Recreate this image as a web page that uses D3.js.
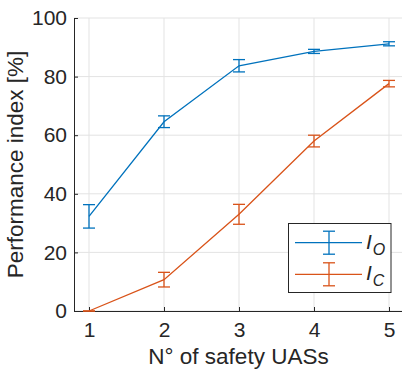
<!DOCTYPE html>
<html>
<head>
<meta charset="utf-8">
<script src="https://cdn.jsdelivr.net/npm/d3@7"></script>
<style>
  body { margin: 0; background: #fff; }
  svg { display: block; font-family: Arial, "Liberation Sans", sans-serif; }
</style>
</head>
<body>
<svg id="chart" width="402" height="369"></svg>
<script>
// data
var safetyUAS = [1, 2, 3, 4, 5];
var ioMean = [32.3, 64.6, 83.7, 88.6, 91.2];
var ioErr = [4.0, 2.0, 2.1, 0.7, 0.7];
var icMean = [0, 10.7, 33.0, 58.0, 77.6];
var icErr = [0, 2.5, 3.4, 2.0, 1.1];
var yTicks = [0, 20, 40, 60, 80, 100];

var W = 402, H = 369;
var margin = {left: 74, top: 18, bottom: 311, right: 404};
var svg = d3.select('#chart');

var x = d3.scaleLinear().domain([0.8, 5.2]).range([margin.left, margin.right]);
var y = d3.scaleLinear().domain([0, 100]).range([margin.bottom, margin.top]);

var gridColor = '#e3e3e3', axisColor = '#262626';
var blue = '#0072BD', orange = '#D95319';

// grid
var grid = svg.append('g');
grid.selectAll('.gx').data(safetyUAS).enter().append('line')
    .attr('x1', function(d) { return x(d); }).attr('x2', function(d) { return x(d); })
    .attr('y1', y(0)).attr('y2', y(100))
    .attr('stroke', gridColor).attr('stroke-width', 1);
grid.selectAll('.gy').data(yTicks).enter().append('line')
    .attr('x1', margin.left).attr('x2', W)
    .attr('y1', function(d) { return y(d); }).attr('y2', function(d) { return y(d); })
    .attr('stroke', gridColor).attr('stroke-width', 1);

// axes (ticks inward, like matlab)
var xAxis = d3.axisBottom(x).tickValues(safetyUAS).tickFormat(d3.format('d'))
    .tickSizeInner(-4).tickSizeOuter(0).tickPadding(11);
var yAxis = d3.axisLeft(y).tickValues(yTicks).tickSizeInner(-4).tickSizeOuter(0).tickPadding(7);

var gx = svg.append('g').attr('transform', 'translate(0,' + margin.bottom + ')').call(xAxis);
var gy = svg.append('g').attr('transform', 'translate(' + margin.left + ',0)').call(yAxis);
[gx, gy].forEach(function(g) {
    g.select('.domain').attr('stroke', axisColor).attr('stroke-width', 1);
    g.selectAll('.tick line').attr('stroke', axisColor);
    g.selectAll('.tick text').attr('fill', axisColor).style('font-size', '21px');
});
gx.selectAll('.tick text').attr('dy', '0.71em');

// axis labels
svg.append('text').attr('x', 238.5).attr('y', 364)
    .attr('text-anchor', 'middle').attr('fill', axisColor).style('font-size', '22.5px')
    .text('N\u00b0 of safety UASs');
svg.append('text').attr('transform', 'translate(23,' + (y(50)) + ') rotate(-90)')
    .attr('text-anchor', 'middle').attr('fill', axisColor).style('font-size', '22.5px')
    .text('Performance index [%]');

// series with error bars
var cap = 6;
function drawSeries(means, errs, color) {
    var g = svg.append('g');
    var pts = safetyUAS.map(function(d, i) { return {x: d, m: means[i], e: errs[i]}; });
    g.append('path').datum(pts)
        .attr('d', d3.line().x(function(d) { return x(d.x); }).y(function(d) { return y(d.m); }))
        .attr('fill', 'none').attr('stroke', color).attr('stroke-width', 1.3);
    var eb = g.selectAll('.eb').data(pts).enter().append('g');
    eb.append('line')
        .attr('x1', function(d) { return x(d.x); }).attr('x2', function(d) { return x(d.x); })
        .attr('y1', function(d) { return y(d.m - d.e); }).attr('y2', function(d) { return y(d.m + d.e); })
        .attr('stroke', color).attr('stroke-width', 1.3);
    [-1, 1].forEach(function(s) {
        eb.append('line')
            .attr('x1', function(d) { return x(d.x) - cap; }).attr('x2', function(d) { return x(d.x) + cap; })
            .attr('y1', function(d) { return y(d.m + s * d.e); }).attr('y2', function(d) { return y(d.m + s * d.e); })
            .attr('stroke', color).attr('stroke-width', 1.3);
    });
}
drawSeries(ioMean, ioErr, blue);
drawSeries(icMean, icErr, orange);

// legend
var leg = svg.append('g');
leg.append('rect').attr('x', 288.5).attr('y', 223.5).attr('width', 102.5).attr('height', 69)
    .attr('fill', '#fff').attr('stroke', axisColor).attr('stroke-width', 1);
var legItems = [{c: blue, sub: 'O', y: 242.7}, {c: orange, sub: 'C', y: 274.3}];
legItems.forEach(function(it) {
    leg.append('line').attr('x1', 295).attr('x2', 362).attr('y1', it.y).attr('y2', it.y)
        .attr('stroke', it.c).attr('stroke-width', 1.3);
    leg.append('line').attr('x1', 329).attr('x2', 329).attr('y1', it.y - 11.5).attr('y2', it.y + 11.5)
        .attr('stroke', it.c).attr('stroke-width', 1.3);
    [-11.5, 11.5].forEach(function(o) {
        leg.append('line').attr('x1', 323).attr('x2', 335).attr('y1', it.y + o).attr('y2', it.y + o)
            .attr('stroke', it.c).attr('stroke-width', 1.3);
    });
    var t = leg.append('text').attr('x', 366).attr('y', it.y + 6).attr('fill', axisColor)
        .style('font-size', '21px').style('font-style', 'italic');
    t.append('tspan').text('I');
    t.append('tspan').attr('dy', 6).attr('dx', 1).style('font-size', '16px').text(it.sub);
});
</script>
</body>
</html>
